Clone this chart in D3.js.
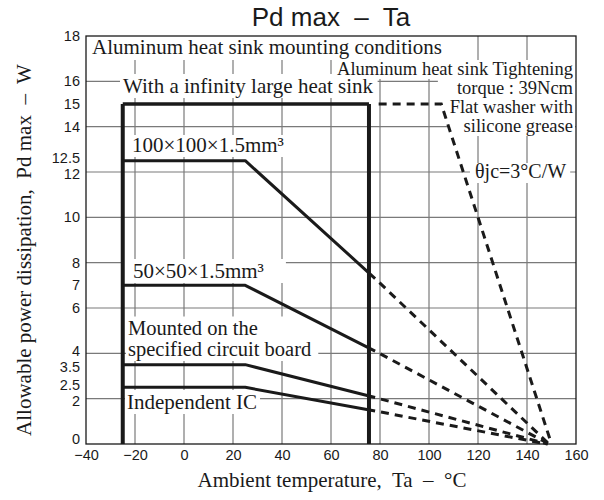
<!DOCTYPE html>
<html>
<head>
<meta charset="utf-8">
<script src="https://cdn.jsdelivr.net/npm/d3@7"></script>
<style>
    body { margin: 0; background: #fff; }
    svg { display: block; }
    .serif { font-family: "Liberation Serif", "Times New Roman", serif; fill: #1a1a1a; }
    .sans { font-family: "Liberation Sans", Arial, sans-serif; fill: #1a1a1a; }
</style>
</head>
<body>
<svg id="chart" width="604" height="500"></svg>
<script>
"use strict";

// axis ticks and grid
const xTicks = [-40, -20, 0, 20, 40, 60, 80, 100, 120, 140, 160];
const yTicks = [0, 2, 2.5, 3.5, 4, 6, 7, 8, 10, 12, 12.5, 14, 15, 16, 18];
const xGrid = [-20, 0, 20, 40, 60, 80, 100, 120, 140];
const yGrid = [2, 4, 6, 8, 10, 12, 14, 16];

// operating range bars (°C), up to 15 W
const limitTemps = [-25, 75.5];
const limitTop = 15;

// infinity large heat sink
const sinkSolid = [[-25, 15], [75.5, 15]];
const sinkDashed = [[77, 15], [105, 15], [150, 0]];

// other mounting conditions: flat value, knee, end of solid part, zero point
const curveFlat = [12.5, 7, 3.5, 2.5];
const curveKnee = [25, 25, 25, 25];
const curveSolidEnd = [[78, 7.3], [78, 4.1], [78, 2.05], [78, 1.46]];
const curveZero = [149, 149, 148.5, 148];

const svg = d3.select("#chart");
const margin = { left: 86, right: 28, top: 36, bottom: 56 };
const W = 604, H = 500;

const x = d3.scaleLinear().domain([-40, 160]).range([margin.left, W - margin.right]);
const y = d3.scaleLinear().domain([0, 18]).range([H - margin.bottom, margin.top]);

// grid
const grid = svg.append("g").attr("stroke", "#7a7a7a").attr("stroke-width", 1.2);
grid.selectAll(".vg").data(xGrid).enter().append("line")
    .attr("x1", d => x(d)).attr("x2", d => x(d))
    .attr("y1", y(0)).attr("y2", y(18));
grid.selectAll(".hg").data(yGrid).enter().append("line")
    .attr("x1", x(-40)).attr("x2", x(160))
    .attr("y1", d => y(d)).attr("y2", d => y(d));

// labels with white boxes over the grid
const labels = svg.append("g");
function addLabel(lines, lx, ly, o) {
    const grp = labels.append("g");
    const rect = grp.append("rect").attr("fill", "#fff");
    const t = grp.append("text").attr("class", "serif")
        .attr("font-size", o.size).attr("text-anchor", o.anchor || "start");
    lines.forEach((s, i) => t.append("tspan").attr("x", lx).attr("y", ly + i * (o.lh || 0)).text(s));
    const b = t.node().getBBox();
    const p = o.pad || [2, 2, 0, 0];
    rect.attr("x", b.x - p[0]).attr("y", b.y - p[2])
        .attr("width", b.width + p[0] + p[1]).attr("height", b.height + p[2] + p[3]);
}

addLabel(["Aluminum heat sink mounting conditions"], 92, 54, { size: 21, pad: [6, 26, 0, 1] });
addLabel(["With a infinity large heat sink"], 123, 93, { size: 21, pad: [3, 4, 0, 0] });
addLabel(["100×100×1.5mm³"], 132, 152, { size: 21, pad: [6, 2, -2, 0] });
addLabel(["50×50×1.5mm³"], 133, 278, { size: 21, pad: [10, 22, 0, 0] });
addLabel(["Mounted on the", "specified circuit board"], 128, 334.5, { size: 20.5, lh: 21.5, pad: [2, 7, 0, 0] });
addLabel(["Independent IC"], 127, 409, { size: 21, pad: [2, 3, 0, 0] });
addLabel(["Aluminum heat sink Tightening"], 573, 75, { size: 18.5, anchor: "end", pad: [1, 2, -1, 0] });
addLabel(["torque : 39Ncm"], 573, 94, { size: 18.5, anchor: "end", pad: [19, 2, -1, 0] });
addLabel(["Flat washer with", "silicone grease"], 573, 113, { size: 18.5, anchor: "end", lh: 19, pad: [2, 2, -1, 0] });
addLabel(["θjc=3°C/W"], 475, 178, { size: 20, pad: [5, 4, -3, 0] });

// frame
svg.append("rect")
    .attr("x", x(-40)).attr("y", y(18))
    .attr("width", x(160) - x(-40)).attr("height", y(0) - y(18))
    .attr("fill", "none").attr("stroke", "#1a1a1a").attr("stroke-width", 1.3);

// data lines
const line = d3.line().x(d => x(d[0])).y(d => y(d[1]));
const data = svg.append("g").attr("fill", "none").attr("stroke", "#1a1a1a");

data.selectAll(".lim").data(limitTemps).enter().append("line")
    .attr("x1", d => x(d)).attr("x2", d => x(d))
    .attr("y1", y(0)).attr("y2", y(limitTop))
    .attr("stroke-width", 4);

data.append("path").attr("d", line(sinkSolid)).attr("stroke-width", 3.5);
data.append("path").attr("d", line(sinkDashed)).attr("stroke-width", 3)
    .attr("stroke-dasharray", "8,6").attr("stroke-dashoffset", 8);

curveFlat.forEach((v, i) => {
    const solid = [[-25, v], [curveKnee[i], v], curveSolidEnd[i]];
    const dashed = [curveSolidEnd[i], [curveZero[i], 0]];
    data.append("path").attr("d", line(solid)).attr("stroke-width", 3).attr("stroke-linejoin", "round");
    data.append("path").attr("d", line(dashed)).attr("stroke-width", 3)
        .attr("stroke-dasharray", "8,6").attr("stroke-dashoffset", 8);
});

// axes
const yAxis = svg.append("g").attr("transform", `translate(${x(-40)},0)`)
    .call(d3.axisLeft(y).tickValues(yTicks).tickSize(0).tickPadding(6).tickFormat(d3.format("")));
const xAxis = svg.append("g").attr("transform", `translate(0,${y(0)})`)
    .call(d3.axisBottom(x).tickValues(xTicks).tickSize(0).tickPadding(6).tickFormat(d => d < 0 ? "−" + Math.abs(d) : d));
[yAxis, xAxis].forEach(a => {
    a.select(".domain").remove();
    a.selectAll("text").attr("class", "sans").attr("font-size", 14.5).attr("fill", "#1a1a1a");
    a.attr("font-family", null);
});
// close pairs of y labels sit a little apart, as in the original
const nudge = { 12.5: -2.5, 12: 1.5, 4: -2.5, 3.5: 2, 2.5: -2.5, 2: 2, 0: -5 };
yAxis.selectAll(".tick text").attr("y", d => nudge[d] || 0);

// titles
svg.append("text").attr("class", "sans").attr("x", 331).attr("y", 26)
    .attr("text-anchor", "middle").attr("font-size", 26).style("white-space", "pre")
    .text("Pd max  –  Ta");
svg.append("text").attr("class", "serif").attr("x", 332).attr("y", 487)
    .attr("text-anchor", "middle").attr("font-size", 21).style("white-space", "pre")
    .text("Ambient temperature,  Ta  –  °C");
svg.append("text").attr("class", "serif")
    .attr("transform", "translate(31,250) rotate(-90)")
    .attr("text-anchor", "middle").attr("font-size", 21).style("white-space", "pre")
    .text("Allowable power dissipation,  Pd max  –  W");
</script>
</body>
</html>
